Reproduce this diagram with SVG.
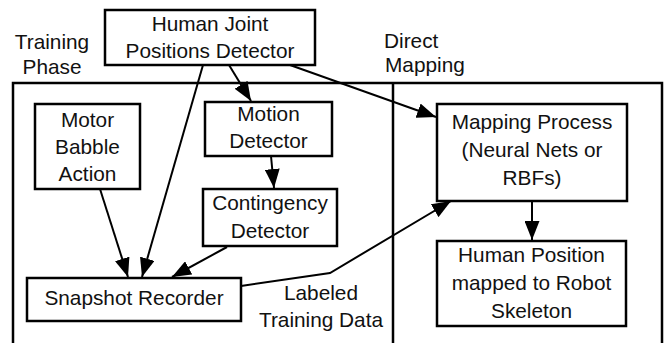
<svg xmlns="http://www.w3.org/2000/svg" width="667" height="343" viewBox="0 0 667 343">
<style>
.box{fill:#fff;stroke:#000;stroke-width:2.5}
.frame{fill:none;stroke:#000;stroke-width:2.5}
text{font-family:"Liberation Sans",Arial,sans-serif;font-size:20.8px;fill:#111;text-anchor:middle}
.edge{fill:none;stroke:#000;stroke-width:2;marker-end:url(#ah)}
</style>
<defs>
<marker id="ah" markerUnits="userSpaceOnUse" markerWidth="19" markerHeight="15" refX="19" refY="7.5" orient="auto">
<path d="M0,0 L19,7.5 L0,15 z" fill="#000"/>
</marker>
</defs>
<rect width="667" height="343" fill="#fff"/>
<g id="frames">
<rect class="frame" x="13" y="83" width="649" height="280"/>
<line x1="393" y1="83" x2="393" y2="343" stroke="#000" stroke-width="2.5"/>
</g>
<g id="label-training">
<text x="52" y="49">Training</text>
<text x="52" y="74">Phase</text>
</g>
<g id="label-direct">
<text x="384" y="48" style="text-anchor:start">Direct</text>
<text x="385" y="72" style="text-anchor:start">Mapping</text>
</g>
<g id="connectors">
<line class="edge" x1="229" y1="65" x2="251" y2="101"/>
<line class="edge" x1="203" y1="65" x2="142" y2="277"/>
<line class="edge" x1="290" y1="65" x2="436" y2="117"/>
<line class="edge" x1="100" y1="189" x2="128" y2="277"/>
<line class="edge" x1="271" y1="156" x2="274" y2="188"/>
<line class="edge" x1="227" y1="247" x2="172" y2="277"/>
<polyline class="edge" points="241,286 330,273 451,201"/>
<line class="edge" x1="532" y1="201" x2="532" y2="240"/>
</g>
<g id="n-human-joint">
<rect class="box" x="105" y="10" width="210" height="55"/>
<text x="210" y="31">Human Joint</text>
<text x="210" y="58">Positions Detector</text>
</g>
<g id="n-motor">
<rect class="box" x="35" y="104" width="105" height="85"/>
<text x="87.5" y="127">Motor</text>
<text x="87.5" y="154">Babble</text>
<text x="87.5" y="181">Action</text>
</g>
<g id="n-motion">
<rect class="box" x="205" y="102" width="127" height="54"/>
<text x="268.5" y="121">Motion</text>
<text x="268.5" y="148">Detector</text>
</g>
<g id="n-contingency">
<rect class="box" x="203" y="189" width="134" height="57"/>
<text x="270" y="210">Contingency</text>
<text x="270" y="238">Detector</text>
</g>
<g id="n-snapshot">
<rect class="box" x="27" y="278" width="214" height="43"/>
<text x="134" y="305">Snapshot Recorder</text>
</g>
<g id="n-mapping">
<rect class="box" x="437" y="104" width="190" height="97"/>
<text x="532" y="129">Mapping Process</text>
<text x="532" y="157">(Neural Nets or</text>
<text x="532" y="185">RBFs)</text>
</g>
<g id="n-human-position">
<rect class="box" x="437" y="241" width="189" height="85"/>
<text x="531.5" y="262">Human Position</text>
<text x="531.5" y="290">mapped to Robot</text>
<text x="531.5" y="318">Skeleton</text>
</g>
<g id="label-labeled">
<text x="321" y="300">Labeled</text>
<text x="321" y="327">Training Data</text>
</g>
</svg>
